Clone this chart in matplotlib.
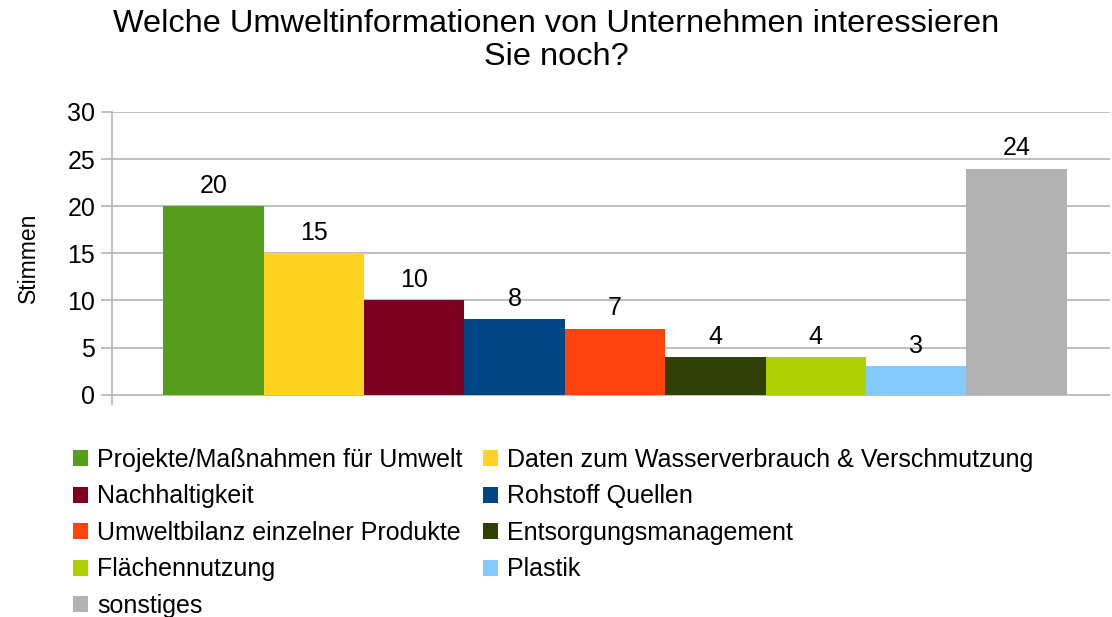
import matplotlib
matplotlib.use("Agg")
import matplotlib.pyplot as plt
from matplotlib.patches import Patch

plt.rcParams['font.family'] = ['Liberation Sans', 'DejaVu Sans']

categories = [
    "Projekte/Maßnahmen für Umwelt",
    "Daten zum Wasserverbrauch & Verschmutzung",
    "Nachhaltigkeit",
    "Rohstoff Quellen",
    "Umweltbilanz einzelner Produkte",
    "Entsorgungsmanagement",
    "Flächennutzung",
    "Plastik",
    "sonstiges",
]
votes = [20, 15, 10, 8, 7, 4, 4, 3, 24]
colors = ["#579d1c", "#ffd320", "#7e0021", "#004586", "#ff420e",
          "#314004", "#aecf00", "#83caff", "#b2b2b2"]
yticks = [0, 5, 10, 15, 20, 25, 30]

fig = plt.figure(figsize=(11.12, 6.17), dpi=100)
ax = fig.add_axes([0.1007, 0.345, 0.8975, 0.4735])

w = 0.1006
n = len(votes)
for i, (v, c) in enumerate(zip(votes, colors)):
    x = (i - (n - 1) / 2) * w + 0.004
    ax.bar(x, v, width=w, color=c, zorder=3)
    ax.text(x, v + 0.9, str(v), ha='center', va='bottom', fontsize=18, color='black')

ax.set_xlim(-0.5, 0.5)
ax.set_ylim(-1.0, 30)
ax.set_yticks(yticks)
ax.set_yticklabels([str(t) for t in yticks], fontsize=18)
ax.set_xticks([])
for y in yticks:
    ax.axhline(y, color='#b3b3b3', lw=1.2, zorder=1)
for s in ['top', 'right', 'bottom']:
    ax.spines[s].set_visible(False)
ax.spines['left'].set_color('#b3b3b3')
ax.spines['left'].set_linewidth(1.2)
ax.tick_params(axis='y', length=8, color='#b3b3b3', width=1.2, pad=4)
ax.set_ylabel("Stimmen", fontsize=16.5, labelpad=20)

fig.suptitle("Welche Umweltinformationen von Unternehmen interessieren\nSie noch?",
             fontsize=23.4, y=0.985, x=0.5, va='top', linespacing=1.12)

handles = [Patch(facecolor=c) for c in colors]
order = [0, 2, 4, 6, 8, 1, 3, 5, 7]
fig.legend([handles[i] for i in order], [categories[i] for i in order],
           ncol=2, loc='upper left', bbox_to_anchor=(0.0656, 0.274),
           frameon=False, fontsize=18, handlelength=0.6, handleheight=0.6,
           handletextpad=0.36, columnspacing=0.84, labelspacing=0.5,
           borderpad=0, borderaxespad=0)

fig.savefig("out.png", dpi=100)
